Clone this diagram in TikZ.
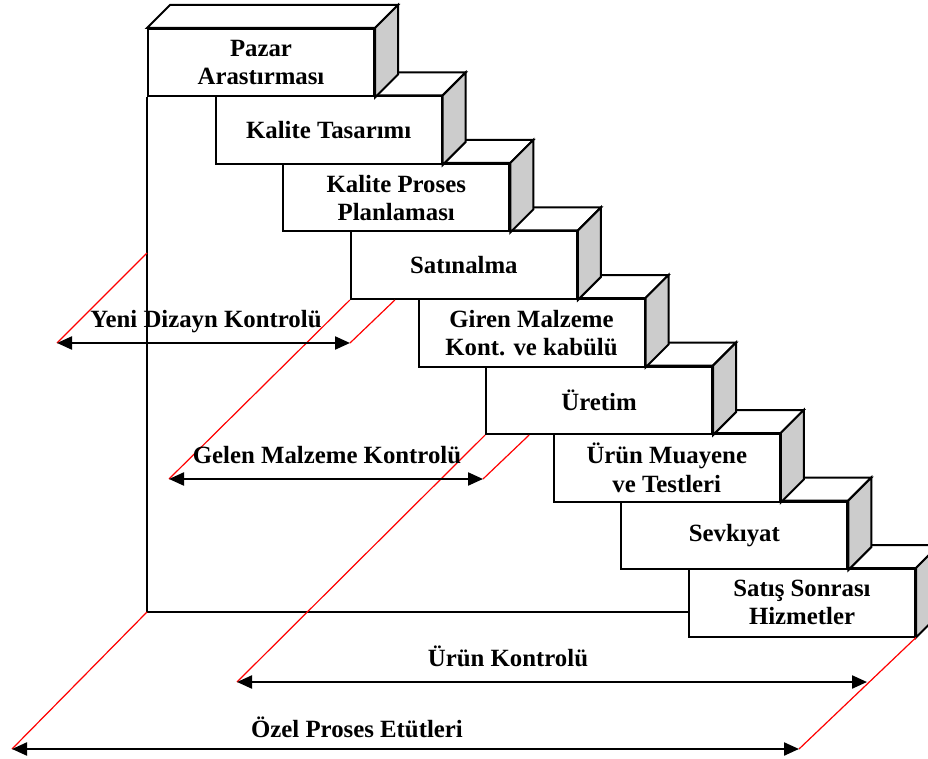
\documentclass[tikz,border=0pt]{standalone}
\usepackage{fontspec}
\setmainfont{Liberation Serif}
\usetikzlibrary{arrows.meta,calc}
\definecolor{sidegray}{RGB}{204,204,204}
\definecolor{guidered}{RGB}{255,0,0}

\begin{document}
\begin{tikzpicture}[x=1pt,y=-1pt,
  labelfont/.style={font=\fontsize{24.8pt}{28.3pt}\selectfont\bfseries},
  boxedge/.style={draw=black, line width=2pt, line join=miter},
  stepbox/.style={boxedge, fill=white, minimum width=226pt, minimum height=67.5pt,
    inner sep=0pt, anchor=north west, align=center, labelfont},
  frameline/.style={draw=black, line width=1.6pt},
  guide/.style={draw=guidered, line width=1.2pt},
  span/.style={draw=black, line width=2.2pt, {Triangle[length=15pt,width=13pt]}-{Triangle[length=15pt,width=13pt]}},
  spanlabel/.style={anchor=base, inner sep=0pt, labelfont}
]
\useasboundingbox (0,0) rectangle (928,759);

% staircase of process steps, drawn from the lowest step upwards
\foreach \i/\txt in {
  9/{Satış Sonrası\\Hizmetler},
  8/{Sevkıyat},
  7/{Ürün Muayene\\ve Testleri},
  6/{Üretim},
  5/{Giren Malzeme\\Kont. ve kabülü},
  4/{Satınalma},
  3/{Kalite Proses\\Planlaması},
  2/{Kalite Tasarımı},
  1/{Pazar\\Arastırması}} {
  \node[stepbox] (b\i) at ({147+67.625*(\i-1)},{28+67.5*(\i-1)}) {\txt};
  \draw[boxedge, fill=white] (b\i.north west) -- ++(23,-23)
    -- ($(b\i.north east)+(23,-23)$) -- (b\i.north east) -- cycle;
  \draw[boxedge, fill=sidegray] (b\i.north east) -- ++(23,-23)
    -- ($(b\i.south east)+(23,-23)$) -- (b\i.south east) -- cycle;
}

% frame under the staircase
\coordinate (fc) at (147,612);
\draw[frameline] (b1.south west) -- (fc) -- (fc -| b9.west);

% end points of the control spans
\coordinate (yL) at (57,343);  \coordinate (yR) at (350,343);
\coordinate (gL) at (169,479); \coordinate (gR) at (483,479);
\coordinate (uL) at (237,682); \coordinate (uR) at (867,682);
\coordinate (oL) at (12,749);  \coordinate (oR) at (799,749);
\coordinate (yT) at (147,253);

% slanted guide lines
\draw[guide] (yT) -- (yL);
\draw[guide] (yR) -- ($(b4.south west)+(45,0)$);
\draw[guide] (b4.south west) -- (gL);
\draw[guide] (gR) -- ($(b6.south west)+(44,0)$);
\draw[guide] (b6.south west) -- (uL);
\draw[guide] (b9.south east) -- (oR);
\draw[guide] (fc) -- (oL);

% control spans
\draw[span] (yL) -- (yR);
\draw[span] (gL) -- (gR);
\draw[span] (uL) -- (uR);
\draw[span] (oL) -- (oR);

\node[spanlabel] (ly) at (206,327) {Yeni Dizayn Kontrolü};
\node[spanlabel] (lg) at (327,463) {Gelen Malzeme Kontrolü};
\node[spanlabel] (lu) at (508,666) {Ürün Kontrolü};
\node[spanlabel] (lo) at (357,737) {Özel Proses Etütleri};
\end{tikzpicture}
\end{document}
